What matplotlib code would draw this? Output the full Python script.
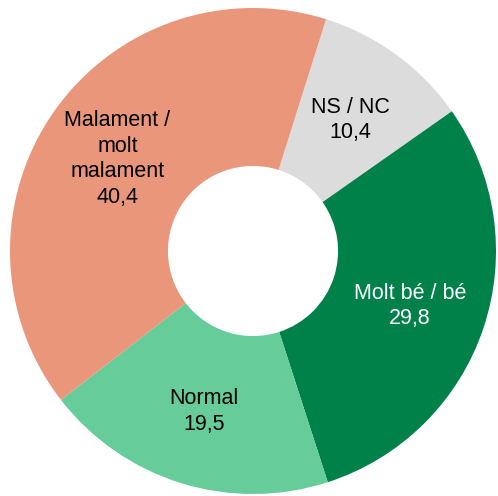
import numpy as np
import matplotlib
matplotlib.use("Agg")
import matplotlib.pyplot as plt

labels = ["NS / NC", "Molt bé / bé", "Normal", "Malament /\nmolt\nmalament"]
values = [10.4, 29.8, 19.5, 40.4]
colors = ["#DCDCDC", "#00814A", "#66CC99", "#E9967A"]
text_colors = ["black", "white", "black", "black"]

plt.rcParams["font.family"] = ["Liberation Sans", "DejaVu Sans"]

fig = plt.figure(figsize=(4.98, 4.96), dpi=100)
ax = fig.add_axes([9 / 498, 2 / 496, 488 / 498, 486 / 496])

wedges, _ = ax.pie(values, colors=colors, startangle=72.5, counterclock=False,
                   radius=1, wedgeprops=dict(width=0.65, linewidth=0))

for w, lab, v, tc in zip(wedges, labels, values, text_colors):
    mid = np.deg2rad((w.theta1 + w.theta2) / 2)
    r = 0.68
    ax.text(r * np.cos(mid), r * np.sin(mid) - 0.01,
            lab + "\n" + f"{v:.1f}".replace(".", ","),
            ha="center", va="center", fontsize=15.5, color=tc, linespacing=1.28)

ax.set_xlim(-1, 1)
ax.set_ylim(-1, 1)
ax.axis("off")

fig.savefig("out.png", dpi=100)
